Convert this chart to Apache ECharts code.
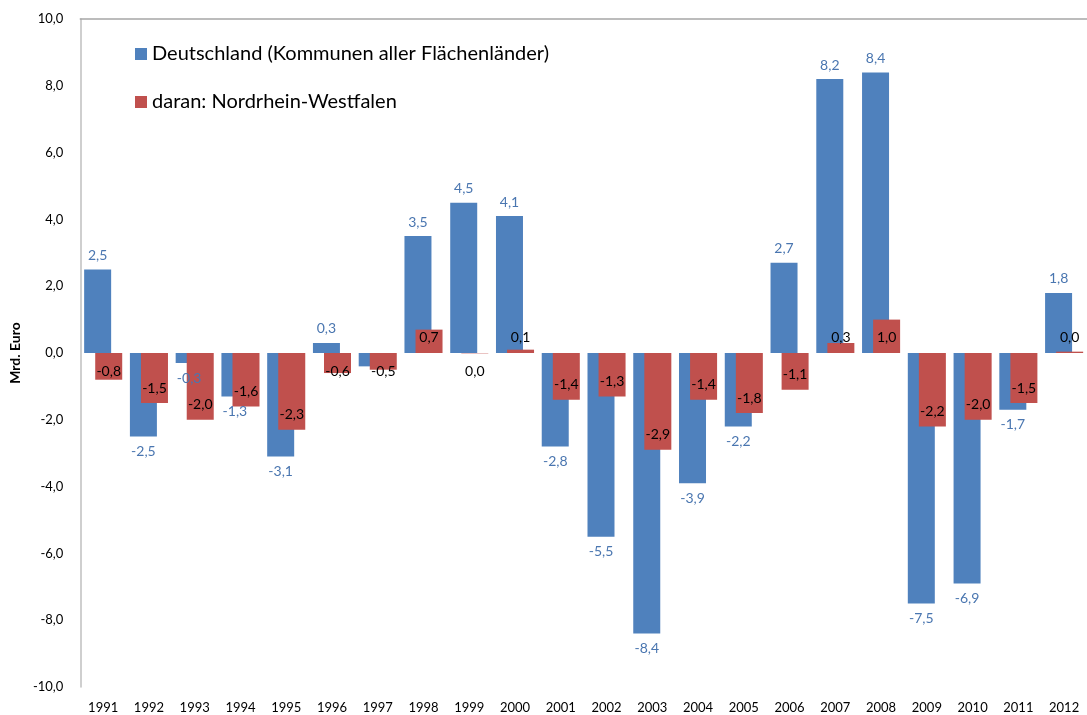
<!DOCTYPE html>
<html>
<head>
<meta charset="utf-8">
<script src="https://cdn.jsdelivr.net/npm/echarts@6/dist/echarts.min.js"></script>
<style>
  html, body { margin: 0; padding: 0; background: #fff; }
  #chart { width: 1087px; height: 715px; }
</style>
</head>
<body>
<div id="chart"></div>
<script>
const years = ['1991', '1992', '1993', '1994', '1995', '1996', '1997', '1998', '1999', '2000', '2001',
  '2002', '2003', '2004', '2005', '2006', '2007', '2008', '2009', '2010', '2011', '2012'];
const deutschland = [2.5, -2.5, -0.3, -1.3, -3.1, 0.3, -0.4, 3.5, 4.5, 4.1, -2.8,
  -5.5, -8.4, -3.9, -2.2, 2.7, 8.2, 8.4, -7.5, -6.9, -1.7, 1.8];
const nrw = [-0.8, -1.5, -2.0, -1.6, -2.3, -0.6, -0.5, 0.7, -0.01, 0.1, -1.4,
  -1.3, -2.9, -1.4, -1.8, -1.1, 0.3, 1.0, -2.2, -2.0, -1.5, 0.04];
const blueLabelHidden = ['1997'];
const seriesNames = ['Deutschland (Kommunen aller Flächenländer)', 'daran: Nordrhein-Westfalen'];

const FONT = 'Lato';
const fmt = v => (Math.abs(v) < 0.05 ? 0 : v).toFixed(1).replace('.', ',');

const blueData = deutschland.map((v, i) => ({
  value: v,
  label: {
    show: blueLabelHidden.indexOf(years[i]) < 0,
    position: v >= 0 ? 'top' : 'bottom',
    distance: v >= 0 ? 7 : 8
  }
}));

// Excel "inside end": small bars keep a minimum distance from the axis
const redData = nrw.map(v => {
  let label;
  if (v >= 0) label = { position: 'insideBottom', distance: 9 };
  else if (v > -1) label = { position: 'insideTop', distance: 11 };
  else label = { position: 'insideBottom', distance: 8 };
  return { value: v, label: label };
});

const chart = echarts.init(document.getElementById('chart'));
chart.setOption({
  animation: false,
  textStyle: { fontFamily: FONT },
  grid: { left: 76, right: 0, top: 19, bottom: 28 },
  legend: {
    orient: 'vertical',
    left: 130,
    top: 39,
    itemWidth: 12,
    itemHeight: 12,
    itemGap: 28,
    icon: 'rect',
    textStyle: { fontSize: 20, color: '#000', fontFamily: FONT },
    data: seriesNames
  },
  xAxis: [
    {
      type: 'category',
      data: years,
      axisLine: { show: false },
      axisTick: { show: false },
      axisLabel: { fontSize: 13, color: '#000', margin: 14 }
    },
    {
      type: 'category',
      data: years,
      position: 'top',
      axisLine: { onZero: true, lineStyle: { color: '#A6A6A6', width: 1.5 } },
      axisTick: { show: false },
      axisLabel: { show: false }
    }
  ],
  yAxis: {
    type: 'value',
    min: -10,
    max: 10,
    interval: 2,
    name: 'Mrd. Euro',
    nameLocation: 'middle',
    nameRotate: 90,
    nameGap: 54,
    nameTextStyle: { fontSize: 14, fontWeight: 'bold', color: '#000' },
    axisLine: { show: true, lineStyle: { color: '#BFBFBF', width: 1.5 } },
    axisTick: { show: false },
    splitLine: { show: false },
    axisLabel: { fontSize: 13, color: '#000', margin: 17, formatter: v => fmt(v) }
  },
  series: [
    {
      name: seriesNames[0],
      type: 'bar',
      xAxisIndex: 0,
      data: blueData,
      barWidth: 27,
      barGap: '-59%',
      itemStyle: { color: '#4F81BD' },
      label: {
        show: true,
        fontSize: 14,
        color: '#4A76B0',
        formatter: p => fmt(p.value)
      }
    },
    {
      name: seriesNames[1],
      type: 'bar',
      xAxisIndex: 0,
      data: redData,
      barWidth: 27,
      barGap: '-59%',
      itemStyle: { color: '#C0504D' },
      label: {
        show: true,
        fontSize: 14,
        color: '#000',
        formatter: p => fmt(p.value)
      }
    }
  ]
});
</script>
</body>
</html>
